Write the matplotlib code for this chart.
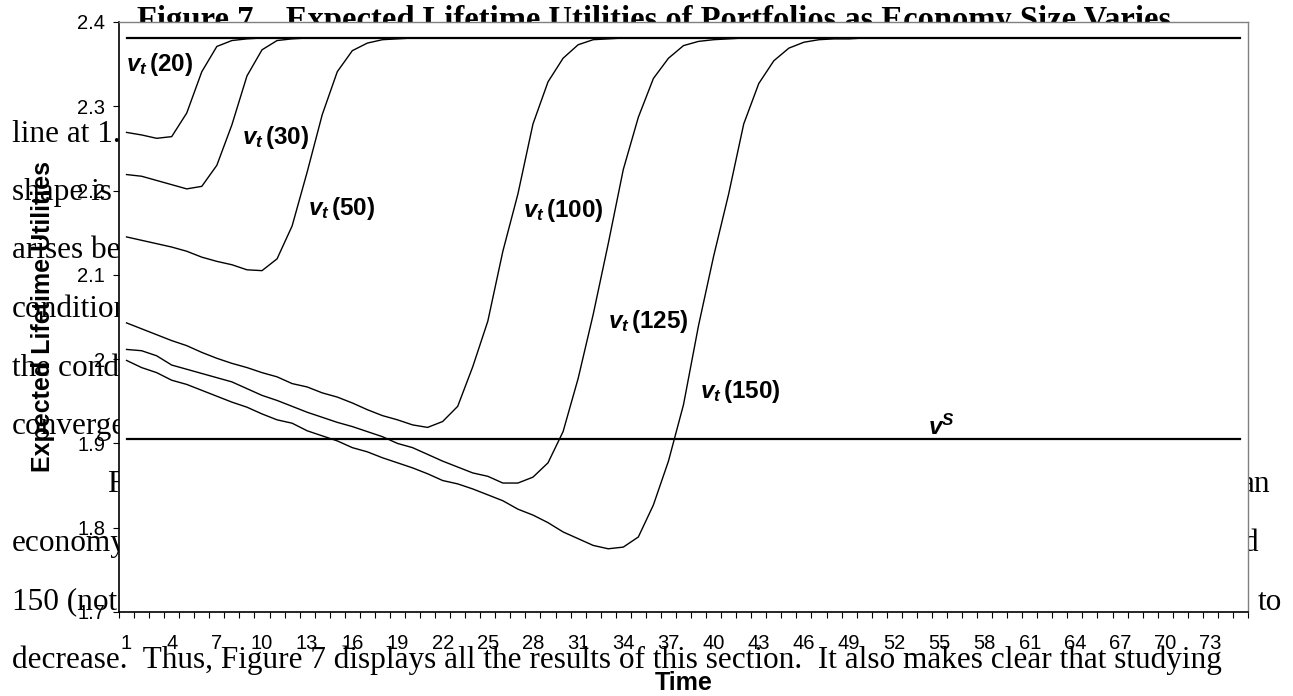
import numpy as np
import matplotlib
matplotlib.use('Agg')
import matplotlib.pyplot as plt
from matplotlib.ticker import FixedLocator, FormatStrFormatter

plt.rcParams['font.family'] = ['Liberation Sans', 'DejaVu Sans']
plt.rcParams['mathtext.fontset'] = 'custom'
plt.rcParams['mathtext.rm'] = 'Liberation Sans'
plt.rcParams['mathtext.it'] = 'Liberation Sans:italic'
plt.rcParams['mathtext.bf'] = 'Liberation Sans:bold'
plt.rcParams['mathtext.bfit'] = 'Liberation Sans:italic:bold'

# 数据:各经济规模下的期望终身效用 (t = 1, 2, ...)
n_periods = 75
v_long = 2.381   # 上方水平线
v_short = 1.905  # v^S

v20 = [2.269, 2.266, 2.262, 2.264, 2.292, 2.341, 2.371, 2.378, 2.380, 2.381]
v30 = [2.219, 2.217, 2.212, 2.207, 2.202, 2.205, 2.230, 2.278, 2.336, 2.367,
       2.378, 2.380, 2.381]
v50 = [2.145, 2.141, 2.137, 2.133, 2.128, 2.121, 2.116, 2.112, 2.106, 2.105,
       2.119, 2.158, 2.222, 2.290, 2.341, 2.366, 2.375, 2.379, 2.380, 2.381]
v100 = [2.043, 2.036, 2.029, 2.022, 2.016, 2.008, 2.001, 1.995, 1.990, 1.984,
        1.979, 1.971, 1.967, 1.960, 1.955, 1.948, 1.940, 1.933, 1.928, 1.922,
        1.919, 1.926, 1.944, 1.991, 2.045, 2.128, 2.196, 2.279, 2.329, 2.357,
        2.373, 2.379, 2.380, 2.381]
v125 = [2.0115, 2.010, 2.004, 1.993, 1.988, 1.983, 1.978, 1.973, 1.965, 1.957,
        1.951, 1.944, 1.937, 1.931, 1.925, 1.920, 1.914, 1.908, 1.900, 1.895,
        1.887, 1.879, 1.872, 1.865, 1.861, 1.853, 1.853, 1.860, 1.877, 1.914,
        1.977, 2.053, 2.137, 2.225, 2.287, 2.333, 2.357, 2.372, 2.377, 2.379,
        2.380, 2.381]
v150 = [1.9985, 1.990, 1.984, 1.975, 1.970, 1.963, 1.956, 1.949, 1.943, 1.935,
        1.928, 1.924, 1.915, 1.909, 1.903, 1.895, 1.890, 1.883, 1.877, 1.871,
        1.864, 1.856, 1.852, 1.846, 1.839, 1.832, 1.822, 1.815, 1.806, 1.795,
        1.787, 1.779, 1.775, 1.777, 1.789, 1.827, 1.879, 1.946, 2.040, 2.122,
        2.196, 2.279, 2.327, 2.354, 2.369, 2.376, 2.379, 2.380, 2.380, 2.381]

series = {'20': v20, '30': v30, '50': v50, '100': v100, '125': v125, '150': v150}
# 曲线标签位置 (t, v)
label_pos = {'20': (0.97, 2.350), '30': (8.67, 2.263), '50': (13.06, 2.179),
             '100': (27.34, 2.176), '125': (32.99, 2.045), '150': (39.1, 1.962)}

y_ticks = [1.7, 1.8, 1.9, 2.0, 2.1, 2.2, 2.3, 2.4]
x_label_ticks = list(range(1, 74, 3))

# 背景正文 (被图遮挡的段落片段)
doc_left = ['line at 1.', 'shape is', 'arises be', 'condition', 'the cond',
            'converge', None, 'economy', '150 (not',
            'decrease.  Thus, Figure 7 displays all the results of this section.  '
            'It also makes clear that studying']
doc_right = {6: 'an', 7: 'd', 8: 'to'}
right_ends = {6: 1271, 7: 1258, 8: 1282}

fig = plt.figure(figsize=(12.93, 6.96), dpi=100)
W, H = 1293, 696
ax = fig.add_axes([119 / W, 1 - 612 / H, 1129 / W, 590 / H])
ax.set_facecolor('white')

serif = ['Liberation Serif', 'DejaVu Serif']
doc_size = 22.5
fig.text(654 / W, 1 - 29 / H,
         'Figure 7    Expected Lifetime Utilities of Portfolios as Economy Size Varies',
         ha='center', va='baseline', fontsize=23.5, fontweight='bold',
         family=serif, zorder=-1)

for i, line in enumerate(doc_left):
    if line:
        fig.text(12 / W, 1 - (141.5 + i * 58.5) / H, line, ha='left',
                 va='baseline', fontsize=doc_size, family=serif, zorder=-1)
fig.text(107 / W, 1 - (141.5 + 6 * 58.5) / H, 'F', ha='left', va='baseline',
         fontsize=doc_size, family=serif, zorder=-1)
for i, word in doc_right.items():
    fig.text(right_ends[i] / W, 1 - (141.5 + i * 58.5) / H, word, ha='right',
             va='baseline', fontsize=doc_size, family=serif, zorder=-1)

time = np.arange(1, n_periods + 1)
ax.plot(time[[0, -1]], [v_long, v_long], color='black', lw=1.6)
ax.plot(time[[0, -1]], [v_short, v_short], color='black', lw=1.6)
for key, vals in series.items():
    ax.plot(time[:len(vals)], vals, color='black', lw=1.0)
    tx, ty = label_pos[key]
    ax.text(tx, ty, r'$\mathbfit{v}_{\mathbfit{t}}\,\mathbf{(%s)}$' % key,
            ha='left', va='center', fontsize=17.5)
ax.text(54.25, 1.919, r'$\mathbfit{v}^{\mathbfit{S}}$', ha='left',
        va='center', fontsize=17.5)

ax.set_xlim(0.5, n_periods + 0.5)
ax.set_ylim(1.7, 2.4)
ax.set_yticks(y_ticks)
ax.yaxis.set_major_formatter(FormatStrFormatter('%g'))
ax.set_xticks(x_label_ticks)
ax.xaxis.set_minor_locator(FixedLocator(np.arange(0.5, n_periods + 1, 1)))
ax.tick_params(axis='x', which='major', length=0, pad=16, labelsize=14.5)
ax.tick_params(axis='x', which='minor', length=4, width=0.8, direction='out')
ax.tick_params(axis='y', which='major', length=4, width=0.8, pad=6, labelsize=14.5)

for side in ['top', 'right']:
    ax.spines[side].set_color('#808080')
    ax.spines[side].set_linewidth(1.0)
for side in ['left', 'bottom']:
    ax.spines[side].set_color('black')
    ax.spines[side].set_linewidth(1.2)

ax.set_xlabel('Time', fontsize=18, fontweight='bold')
ax.xaxis.set_label_coords(0.5, -(671 - 612) / 590)
ax.set_ylabel('Expected Lifetime Utilities', fontsize=18, fontweight='bold')
ax.yaxis.set_label_coords(-(119 - 55) / 1129, 0.5)

plt.savefig('out.png', dpi=100)
plt.close()
